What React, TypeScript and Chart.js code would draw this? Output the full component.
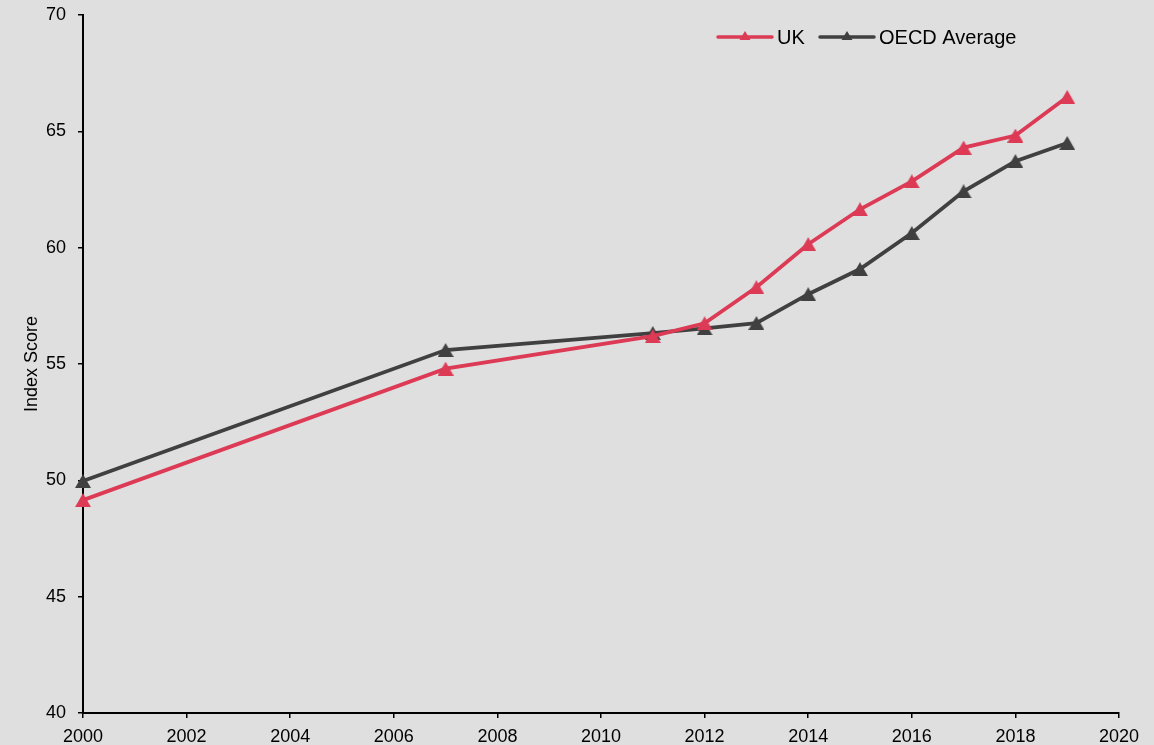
import React, { useEffect, useRef } from "react";
import { Chart, registerables } from "chart.js";

Chart.register(...registerables);

const years = [2000, 2007, 2011, 2012, 2013, 2014, 2015, 2016, 2017, 2018, 2019];
const ukValues = [49.15, 54.8, 56.2, 56.75, 58.3, 60.15, 61.65, 62.85, 64.3, 64.82, 66.48];
const oecdValues = [49.97, 55.6, 56.33, 56.53, 56.76, 58.0, 59.08, 60.63, 62.42, 63.72, 64.5];
const seriesNames = ["UK", "OECD Average"];
const seriesColors = ["#dc3a55", "#404040"];
const yTitle = "Index Score";

const FONT = "'Liberation Sans', Arial, sans-serif";

function triangleImage(color: string, w: number, h: number) {
  const c = document.createElement("canvas");
  c.width = w;
  c.height = h;
  const ctx = c.getContext("2d")!;
  ctx.fillStyle = color;
  ctx.beginPath();
  ctx.moveTo(w / 2, 0);
  ctx.lineTo(w, h);
  ctx.lineTo(0, h);
  ctx.closePath();
  ctx.fill();
  return c;
}

const bgPlugin = {
  id: "bg",
  beforeDraw(chart: any) {
    const { ctx, width, height } = chart;
    ctx.save();
    ctx.fillStyle = "#dfdfdf";
    ctx.fillRect(0, 0, width, height);
    ctx.restore();
  },
};

const legendPlugin = {
  id: "customLegend",
  afterDraw(chart: any) {
    const { ctx } = chart;
    const items = [
      { x: 718, label: seriesNames[0], color: seriesColors[0] },
      { x: 820, label: seriesNames[1], color: seriesColors[1] },
    ];
    const y = 37;
    ctx.save();
    items.forEach((it) => {
      ctx.strokeStyle = it.color;
      ctx.lineWidth = 3.5;
      ctx.lineCap = "round";
      ctx.beginPath();
      ctx.moveTo(it.x, y);
      ctx.lineTo(it.x + 54, y);
      ctx.stroke();
      ctx.fillStyle = it.color;
      const cx = it.x + 27;
      ctx.beginPath();
      ctx.moveTo(cx, y - 6);
      ctx.lineTo(cx + 5.5, y + 3);
      ctx.lineTo(cx - 5.5, y + 3);
      ctx.closePath();
      ctx.fill();
      ctx.fillStyle = "#000";
      ctx.font = `20px ${FONT}`;
      ctx.textBaseline = "middle";
      ctx.textAlign = "left";
      ctx.fillText(it.label, it.x + 59, y + 1);
    });
    ctx.restore();
  },
};

const fixAreaPlugin = {
  id: "fixArea",
  afterLayout(chart: any) {
    const ca = chart.chartArea;
    if (Math.abs(ca.top - 15) > 0.5) {
      const y = chart.scales.y;
      ca.top = 15;
      ca.height = ca.bottom - ca.top;
      y.top = 15;
      y.height = y.bottom - y.top;
      y.configure();
      y._startPixel = y.top;
      y._length = y.bottom - y.top;
    }
  },
};

export default function App() {
  const ref = useRef<HTMLCanvasElement>(null);
  useEffect(() => {
    if (!ref.current) return;
    const mk = (i: number, vals: number[]) => ({
      label: seriesNames[i],
      data: years.map((x, j) => ({ x, y: vals[j] })),
      borderColor: seriesColors[i],
      backgroundColor: seriesColors[i],
      borderWidth: 3.8,
      pointStyle: triangleImage(seriesColors[i], 16, 14),
      pointRadius: 8,
      pointBorderWidth: 0,
      tension: 0,
      clip: false,
    });
    const chart = new Chart(ref.current, {
      type: "line",
      data: {
        datasets: [mk(0, ukValues), mk(1, oecdValues)],
      },
      options: {
        animation: false,
        responsive: false,
        layout: { padding: { left: 0, top: 15, right: 35, bottom: 0 } },
        plugins: { legend: { display: false }, tooltip: { enabled: false } },
        scales: {
          x: {
            type: "linear",
            min: 2000,
            max: 2020,
            ticks: { stepSize: 2, color: "#000", font: { family: FONT, size: 18 }, padding: 8, maxRotation: 0, callback: (v: any) => String(v) },
            grid: { display: true, drawOnChartArea: false, color: "#000", tickLength: 5, lineWidth: 1.5 },
            border: { display: true, color: "#000", width: 2 },
            afterFit: (s: any) => { s.height = 32; },
          },
          y: {
            min: 40,
            max: 70,
            ticks: { stepSize: 5, color: "#000", font: { family: FONT, size: 18 }, padding: 12 },
            grid: { display: true, drawOnChartArea: false, color: "#000", tickLength: 5, lineWidth: 1.5 },
            border: { display: true, color: "#000", width: 2 },
            title: { display: true, text: yTitle, color: "#000", font: { family: FONT, size: 18 }, padding: { top: 21, bottom: 0 } },
            afterFit: (s: any) => { s.width = 83; },
          },
        },
      },
      plugins: [bgPlugin, legendPlugin, fixAreaPlugin],
    } as any);
    return () => chart.destroy();
  }, []);
  return (
    <div style={{ position: "fixed", left: 0, top: 0, width: 1154, height: 745, background: "#dfdfdf" }}>
      <canvas ref={ref} width={1154} height={745} style={{ width: 1154, height: 745, display: "block" }} />
    </div>
  );
}
